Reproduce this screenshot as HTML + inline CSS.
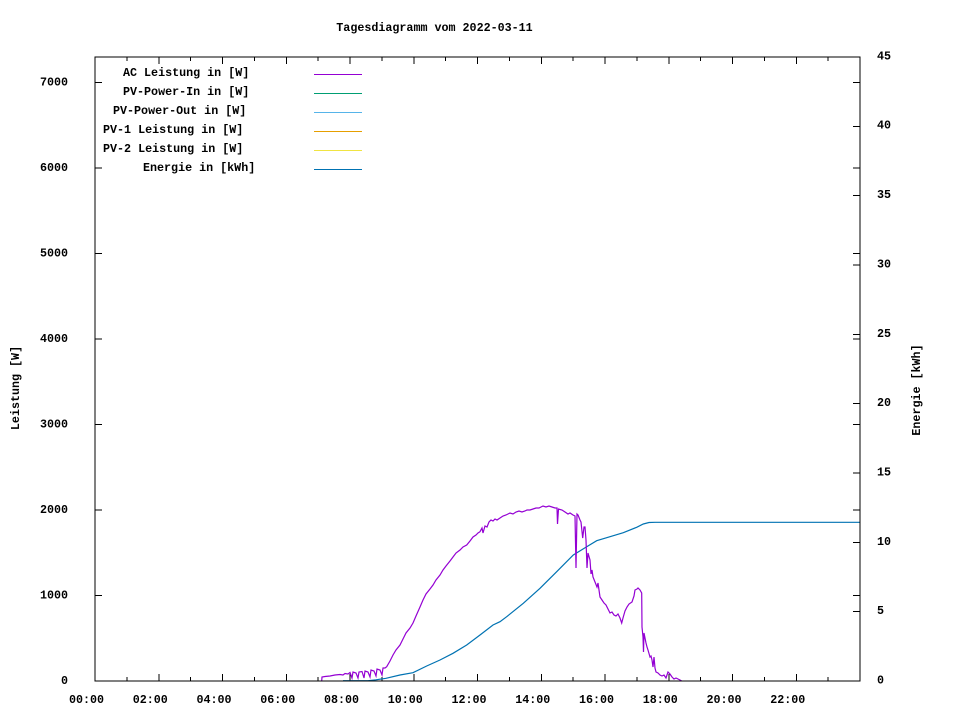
<!DOCTYPE html>
<html>
<head>
<meta charset="utf-8">
<style>
html,body{margin:0;padding:0;background:#fff;}
svg{display:block;}
text{font-family:"Liberation Mono",monospace;font-size:11.7px;font-weight:bold;fill:#000;}
</style>
</head>
<body>
<svg width="960" height="720" viewBox="0 0 960 720" xmlns="http://www.w3.org/2000/svg">
<rect x="0" y="0" width="960" height="720" fill="#fff"/>

<!-- title -->
<text x="434.5" y="31" text-anchor="middle">Tagesdiagramm vom 2022-03-11</text>

<!-- axis labels -->
<text transform="translate(19,388) rotate(-90)" text-anchor="middle">Leistung [W]</text>
<text transform="translate(920,390) rotate(-90)" text-anchor="middle">Energie [kWh]</text>

<!-- left y ticks -->
<g stroke="#000" stroke-width="1" shape-rendering="crispEdges">
<line x1="95" y1="681" x2="102" y2="681"/>
<line x1="95" y1="595.5" x2="102" y2="595.5"/>
<line x1="95" y1="510" x2="102" y2="510"/>
<line x1="95" y1="424.5" x2="102" y2="424.5"/>
<line x1="95" y1="339" x2="102" y2="339"/>
<line x1="95" y1="253.5" x2="102" y2="253.5"/>
<line x1="95" y1="168" x2="102" y2="168"/>
<line x1="95" y1="82.5" x2="102" y2="82.5"/>
<!-- mirrored on right -->
<line x1="853" y1="595.5" x2="860" y2="595.5"/>
<line x1="853" y1="510" x2="860" y2="510"/>
<line x1="853" y1="424.5" x2="860" y2="424.5"/>
<line x1="853" y1="339" x2="860" y2="339"/>
<line x1="853" y1="253.5" x2="860" y2="253.5"/>
<line x1="853" y1="168" x2="860" y2="168"/>
<line x1="853" y1="82.5" x2="860" y2="82.5"/>
<!-- y2 ticks -->
<line x1="853" y1="611.7" x2="860" y2="611.7"/>
<line x1="853" y1="542.3" x2="860" y2="542.3"/>
<line x1="853" y1="473" x2="860" y2="473"/>
<line x1="853" y1="403.7" x2="860" y2="403.7"/>
<line x1="853" y1="334.3" x2="860" y2="334.3"/>
<line x1="853" y1="265" x2="860" y2="265"/>
<line x1="853" y1="195.7" x2="860" y2="195.7"/>
<line x1="853" y1="126.3" x2="860" y2="126.3"/>
</g>

<!-- x ticks -->
<g stroke="#000" stroke-width="1" shape-rendering="crispEdges">
<line x1="158.75" y1="681" x2="158.75" y2="674"/><line x1="158.75" y1="57" x2="158.75" y2="64"/>
<line x1="222.5" y1="681" x2="222.5" y2="674"/><line x1="222.5" y1="57" x2="222.5" y2="64"/>
<line x1="286.25" y1="681" x2="286.25" y2="674"/><line x1="286.25" y1="57" x2="286.25" y2="64"/>
<line x1="350" y1="681" x2="350" y2="674"/><line x1="350" y1="57" x2="350" y2="64"/>
<line x1="413.75" y1="681" x2="413.75" y2="674"/><line x1="413.75" y1="57" x2="413.75" y2="64"/>
<line x1="477.5" y1="681" x2="477.5" y2="674"/><line x1="477.5" y1="57" x2="477.5" y2="64"/>
<line x1="541.25" y1="681" x2="541.25" y2="674"/><line x1="541.25" y1="57" x2="541.25" y2="64"/>
<line x1="605" y1="681" x2="605" y2="674"/><line x1="605" y1="57" x2="605" y2="64"/>
<line x1="668.75" y1="681" x2="668.75" y2="674"/><line x1="668.75" y1="57" x2="668.75" y2="64"/>
<line x1="732.5" y1="681" x2="732.5" y2="674"/><line x1="732.5" y1="57" x2="732.5" y2="64"/>
<line x1="796.25" y1="681" x2="796.25" y2="674"/><line x1="796.25" y1="57" x2="796.25" y2="64"/>
<!-- minor -->
<line x1="126.9" y1="681" x2="126.9" y2="677"/><line x1="126.9" y1="57" x2="126.9" y2="61"/>
<line x1="190.6" y1="681" x2="190.6" y2="677"/><line x1="190.6" y1="57" x2="190.6" y2="61"/>
<line x1="254.4" y1="681" x2="254.4" y2="677"/><line x1="254.4" y1="57" x2="254.4" y2="61"/>
<line x1="318.1" y1="681" x2="318.1" y2="677"/><line x1="318.1" y1="57" x2="318.1" y2="61"/>
<line x1="381.9" y1="681" x2="381.9" y2="677"/><line x1="381.9" y1="57" x2="381.9" y2="61"/>
<line x1="445.6" y1="681" x2="445.6" y2="677"/><line x1="445.6" y1="57" x2="445.6" y2="61"/>
<line x1="509.4" y1="681" x2="509.4" y2="677"/><line x1="509.4" y1="57" x2="509.4" y2="61"/>
<line x1="573.1" y1="681" x2="573.1" y2="677"/><line x1="573.1" y1="57" x2="573.1" y2="61"/>
<line x1="636.9" y1="681" x2="636.9" y2="677"/><line x1="636.9" y1="57" x2="636.9" y2="61"/>
<line x1="700.6" y1="681" x2="700.6" y2="677"/><line x1="700.6" y1="57" x2="700.6" y2="61"/>
<line x1="764.4" y1="681" x2="764.4" y2="677"/><line x1="764.4" y1="57" x2="764.4" y2="61"/>
<line x1="828.1" y1="681" x2="828.1" y2="677"/><line x1="828.1" y1="57" x2="828.1" y2="61"/>
</g>

<!-- left tick labels -->
<g text-anchor="end">
<text x="68" y="684">0</text>
<text x="68" y="598.5">1000</text>
<text x="68" y="513">2000</text>
<text x="68" y="427.5">3000</text>
<text x="68" y="342">4000</text>
<text x="68" y="256.5">5000</text>
<text x="68" y="171">6000</text>
<text x="68" y="85.5">7000</text>
</g>
<!-- right tick labels -->
<g text-anchor="start">
<text x="877" y="683.5">0</text>
<text x="877" y="614">5</text>
<text x="877" y="545">10</text>
<text x="877" y="475.5">15</text>
<text x="877" y="406">20</text>
<text x="877" y="337">25</text>
<text x="877" y="267.5">30</text>
<text x="877" y="198">35</text>
<text x="877" y="128.5">40</text>
<text x="877" y="59.5">45</text>
</g>
<!-- x tick labels -->
<g text-anchor="middle">
<text x="86.5" y="703">00:00</text>
<text x="150.25" y="703">02:00</text>
<text x="214" y="703">04:00</text>
<text x="277.75" y="703">06:00</text>
<text x="341.5" y="703">08:00</text>
<text x="405.25" y="703">10:00</text>
<text x="469" y="703">12:00</text>
<text x="532.75" y="703">14:00</text>
<text x="596.5" y="703">16:00</text>
<text x="660.25" y="703">18:00</text>
<text x="724" y="703">20:00</text>
<text x="787.75" y="703">22:00</text>
</g>

<!-- legend -->
<text x="123" y="76">AC Leistung in [W]</text>
<text x="123" y="95">PV-Power-In in [W]</text>
<text x="113" y="114">PV-Power-Out in [W]</text>
<text x="103" y="133">PV-1 Leistung in [W]</text>
<text x="103" y="152">PV-2 Leistung in [W]</text>
<text x="143" y="171">Energie in [kWh]</text>
<g stroke-width="1" shape-rendering="crispEdges">
<line x1="314" y1="74.5" x2="362" y2="74.5" stroke="#9400d3"/>
<line x1="314" y1="93.5" x2="362" y2="93.5" stroke="#009e73"/>
<line x1="314" y1="112.5" x2="362" y2="112.5" stroke="#56b4e9"/>
<line x1="314" y1="131.5" x2="362" y2="131.5" stroke="#e69f00"/>
<line x1="314" y1="150.5" x2="362" y2="150.5" stroke="#f0e442"/>
<line x1="314" y1="169.5" x2="362" y2="169.5" stroke="#0072b2"/>
</g>

<!-- energy curve -->
<polyline fill="none" stroke="#0072b2" stroke-width="1.2" points="343,680.7 368,680.7 376,679.8 386,678.3 400,675 413,672.7 426.7,666 440,660 453,653.3 466.7,645 480,635 493,625 500,621.7 506.7,616.7 523.3,603.3 540,588.3 556.7,571.7 573.3,555 586.7,546.7 596.7,540.7 606.7,537.7 623.3,532.7 636.7,527.3 643.3,524 649,522.5 655,522.3 860,522.3"/>

<!-- AC power curve -->
<polyline fill="none" stroke="#9400d3" stroke-width="1.2" points="321.7,681 322,677 325,676.5 330,676 335,675 340,674.5 343,675 345,673.5 348,674 350,672.5 352,678 353,672 356,673 358,678 359,672 362,671.5 364,678 365,671 368,672 370,677 371,670 374,671 376,676 377,669 380,670 382,675 383,668 385,668 386.7,666.7 390,661 393,655 396,650 400,645 403,639 406,633 410,628 413,623 416,616 420,607 423,600 426,594 430,589 433,585 436,580 440,575 443,570 446,566 450,561 453,557 456,553 460,550 463,547 466.7,545 470,541 473,537 476,535 478,533 480,531.7 482,528 483,533 485,526 487,527 489,522 491,520 493,521 495,519 497,520 500,518 503,516 506,515 508,514 510,513 513,514 516,512 519,511 522,512 525,511 527,510 530,510 533,509 536,508 539,508 541,507 543,506 546,507 549,506 552,507 555,508 557,508 557.5,524 558.5,509 562,510 565,512 568,514 570,513 573,515 575,516 576,568 577,514 578,515 580,520 581,522 582.7,538 584,527 585,527 586,540 587,568 588,553 590,560 591,574 592,570 593,577 595,582 597,587 598,583 600,597 602,600 604,603 606,605 608,609 610,613 612,612 614,615 616,616 618,614 620,618 621.7,623 623,618 625,611 627,607 629,604 632,602 634,596 635,590 637,589 638,588 640,590 641.7,593 642,627 643,637 643.5,652 644,633 646,643 647,647 648,650 650,657 651,656 652,660 653,667 654,657 655,668 656,672 658,673 660,675 662,676 664,675 666,678 668,672 670,674 672,677 674,679 676,678 678,679 680,680 681.7,681"/>

<!-- border -->
<rect x="95" y="57" width="765" height="624" fill="none" stroke="#000" stroke-width="1" shape-rendering="crispEdges"/>
</svg>
</body>
</html>
